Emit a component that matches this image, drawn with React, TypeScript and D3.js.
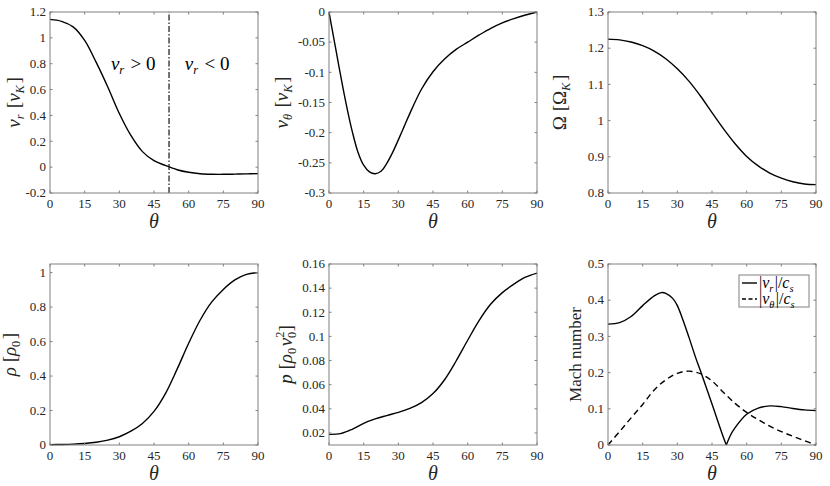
import React from 'react';
import * as d3 from 'd3';

// theta grid (degrees)
const theta = [0, 5, 10, 15, 20, 25, 30, 35, 40, 45, 50, 55, 60, 65, 70, 75, 80, 85, 90];
const thetaTicks = [0, 15, 30, 45, 60, 75, 90];

const vr = [1.143, 1.128, 1.085, 0.98, 0.81, 0.62, 0.415, 0.245, 0.12, 0.05, 0.012, -0.02, -0.04, -0.051, -0.055, -0.0555, -0.054, -0.052, -0.05];
const vrZeroTheta = 51.5;

const thetaVth = [0, 2, 4, 6, 8, 10, 12.5, 15, 17.5, 20, 22.5, 25, 27.5, 30, 32.5, 35, 40, 45, 50, 55, 60, 65, 70, 75, 80, 85, 90];
const vth = [0, -0.042, -0.084, -0.125, -0.163, -0.197, -0.232, -0.254, -0.265, -0.268, -0.264, -0.251, -0.233, -0.212, -0.19, -0.168, -0.128, -0.099, -0.078, -0.062, -0.05, -0.038, -0.027, -0.018, -0.011, -0.005, 0];

const omega = [1.225, 1.223, 1.217, 1.207, 1.192, 1.171, 1.143, 1.109, 1.068, 1.022, 0.977, 0.936, 0.901, 0.875, 0.855, 0.841, 0.831, 0.825, 0.823];

const rho = [0.002, 0.003, 0.005, 0.009, 0.016, 0.028, 0.048, 0.08, 0.125, 0.195, 0.3, 0.44, 0.59, 0.725, 0.83, 0.9025, 0.9575, 0.99, 1.0];

const pres = [0.0188, 0.0194, 0.023, 0.028, 0.0316, 0.0344, 0.037, 0.0403, 0.0451, 0.0526, 0.0641, 0.0796, 0.0968, 0.1133, 0.1268, 0.1363, 0.1433, 0.1491, 0.1525];

// |v_r|/c_s has a cusp where v_r changes sign, so it is kept in two pieces
const thetaMachRa = [0, 5, 10, 15, 20, 23, 25, 28, 30, 33, 35, 38, 40, 45, 50, 51.2];
const machRa = [0.334, 0.338, 0.355, 0.385, 0.412, 0.421, 0.419, 0.405, 0.385, 0.335, 0.298, 0.24, 0.205, 0.113, 0.02, 0];
const thetaMachRb = [51.2, 53, 55, 60, 65, 70, 75, 80, 85, 90];
const machRb = [0, 0.027, 0.048, 0.085, 0.102, 0.108, 0.106, 0.101, 0.097, 0.095];
const machTh = [0, 0.037, 0.075, 0.112, 0.152, 0.18, 0.198, 0.204, 0.197, 0.177, 0.145, 0.115, 0.09, 0.07, 0.052, 0.037, 0.024, 0.012, 0];

const FONT = '"Liberation Serif", "Times New Roman", serif';
const AX = '#808080';
const TXT = '#262626';
const W = 208;
const H = 181;

type Series = { x: number[]; y: number[]; dash?: string };

type PanelProps = {
  left: number;
  top: number;
  yDomain: [number, number];
  yTicks: number[];
  series: Series[];
  ylabel: React.ReactNode;
  ylabelX: number;
  ylabelSize?: number;
  children?: (x: d3.ScaleLinear<number, number>, y: d3.ScaleLinear<number, number>) => React.ReactNode;
};

const fmt = (v: number) => String(+v.toFixed(3));

function Panel({ left, top, yDomain, yTicks, series, ylabel, ylabelX, ylabelSize = 19, children }: PanelProps) {
  const x = d3.scaleLinear().domain([0, 90]).range([left, left + W]);
  const y = d3.scaleLinear().domain(yDomain).range([top + H, top]);
  const bottom = top + H;
  const right = left + W;
  const line = d3.line<[number, number]>()
    .x(d => x(d[0]))
    .y(d => y(d[1]))
    .curve(d3.curveCatmullRom.alpha(0.5));
  return (
    <g>
      {series.map((s, i) => (
        <path key={i} d={line(s.x.map((t, j) => [t, s.y[j]]) as [number, number][]) || ''}
          fill="none" stroke="#000" strokeWidth={1.4} strokeDasharray={s.dash} />
      ))}
      {children && children(x, y)}
      <rect x={left} y={top} width={W} height={H} fill="none" stroke={AX} strokeWidth={1} />
      {thetaTicks.map(t => (
        <g key={'x' + t}>
          <line x1={x(t)} x2={x(t)} y1={bottom} y2={bottom - 2.5} stroke={AX} />
          <line x1={x(t)} x2={x(t)} y1={top} y2={top + 2.5} stroke={AX} />
          <text x={x(t)} y={bottom + 15} textAnchor="middle" fontSize={13} fill={TXT}>{t}</text>
        </g>
      ))}
      {yTicks.map(v => (
        <g key={'y' + v}>
          <line x1={left} x2={left + 2.5} y1={y(v)} y2={y(v)} stroke={AX} />
          <line x1={right} x2={right - 2.5} y1={y(v)} y2={y(v)} stroke={AX} />
          <text x={left - 4} y={y(v)} dy="0.33em" textAnchor="end" fontSize={13} fill={TXT}>{fmt(v)}</text>
        </g>
      ))}
      <text x={left + W / 2} y={bottom + 35} textAnchor="middle" fontSize={20} fontStyle="italic" fill={TXT}>θ</text>
      <text transform={`translate(${ylabelX},${top + H / 2}) rotate(-90)`} textAnchor="middle" fontSize={ylabelSize} fill={TXT}>
        {ylabel}
      </text>
    </g>
  );
}

const I = ({ children }: { children: React.ReactNode }) => <tspan fontStyle="italic">{children}</tspan>;
const Sub = ({ children, italic = true }: { children: React.ReactNode; italic?: boolean }) => (
  <>
    <tspan fontSize="0.65em" dy={4} fontStyle={italic ? 'italic' : 'normal'}>{children}</tspan>
    <tspan dy={-4}>{'\u200a'}</tspan>
  </>
);

export default function App() {
  const rows = [12, 264];
  const cols = [50, 329, 608];
  return (
    <div style={{ position: 'absolute', left: 0, top: 0 }}>
      <svg width={830} height={486} fontFamily={FONT} style={{ display: 'block', background: '#fff' }}>
        <Panel left={cols[0]} top={rows[0]} yDomain={[-0.2, 1.2]} yTicks={d3.range(-0.2, 1.21, 0.2)}
          series={[{ x: theta, y: vr }]} ylabelX={20}
          ylabel={<><I>v</I><Sub>r</Sub> [<I>v</I><Sub>K</Sub>]</>}>
          {(x, y) => (
            <g>
              <line x1={x(vrZeroTheta)} x2={x(vrZeroTheta)} y1={y(-0.2)} y2={y(1.2)} stroke="#000"
                strokeWidth={1.1} strokeDasharray="6 2 1.5 2" />
              <text x={x(36)} y={y(0.8)} dy="0.32em" textAnchor="middle" fontSize={19} fill="#000">
                <I>v</I><Sub>r</Sub> {'> 0'}
              </text>
              <text x={x(68)} y={y(0.8)} dy="0.32em" textAnchor="middle" fontSize={19} fill="#000">
                <I>v</I><Sub>r</Sub> {'< 0'}
              </text>
            </g>
          )}
        </Panel>
        <Panel left={cols[1]} top={rows[0]} yDomain={[-0.3, 0]} yTicks={d3.range(-0.3, 0.001, 0.05)}
          series={[{ x: thetaVth, y: vth }]} ylabelX={288}
          ylabel={<><I>v</I><Sub>θ</Sub> [<I>v</I><Sub>K</Sub>]</>} />
        <Panel left={cols[2]} top={rows[0]} yDomain={[0.8, 1.3]} yTicks={d3.range(0.8, 1.301, 0.1)}
          series={[{ x: theta, y: omega }]} ylabelX={566}
          ylabel={<>Ω [Ω<Sub>K</Sub>]</>} />
        <Panel left={cols[0]} top={rows[1]} yDomain={[0, 1.05]} yTicks={d3.range(0, 1.01, 0.2)}
          series={[{ x: theta, y: rho }]} ylabelX={16}
          ylabel={<><I>ρ</I> [<I>ρ</I><Sub italic={false}>0</Sub>]</>} />
        <Panel left={cols[1]} top={rows[1]} yDomain={[0.01, 0.16]} yTicks={d3.range(0.02, 0.161, 0.02)}
          series={[{ x: theta, y: pres }]} ylabelX={292}
          ylabel={<><I>p</I> [<I>ρ</I><Sub italic={false}>0</Sub><I>v</I><tspan fontSize="0.65em" dy={4}>0</tspan><tspan fontSize="0.65em" dx={-6} dy={-12}>2</tspan><tspan dy={8}>]</tspan></>} />
        <Panel left={cols[2]} top={rows[1]} yDomain={[0, 0.5]} yTicks={d3.range(0, 0.501, 0.1)}
          series={[{ x: thetaMachRa, y: machRa }, { x: thetaMachRb, y: machRb }, { x: theta, y: machTh, dash: '6 4' }]}
          ylabelX={581} ylabelSize={17}
          ylabel={<>Mach number</>}>
          {() => (
            <g>
              <rect x={739} y={275} width={70} height={32} fill="#fff" stroke={AX} />
              <line x1={742} x2={757} y1={283} y2={283} stroke="#000" strokeWidth={1.4} />
              <line x1={742} x2={757} y1={299} y2={299} stroke="#000" strokeWidth={1.4} strokeDasharray="4 2.5" />
              <text x={759} y={288} fontSize={16} fill="#000">|<I>v</I><Sub>r</Sub>|/<I>c</I><Sub>s</Sub></text>
              <text x={759} y={304} fontSize={16} fill="#000">|<I>v</I><Sub>θ</Sub>|/<I>c</I><Sub>s</Sub></text>
            </g>
          )}
        </Panel>
      </svg>
    </div>
  );
}
